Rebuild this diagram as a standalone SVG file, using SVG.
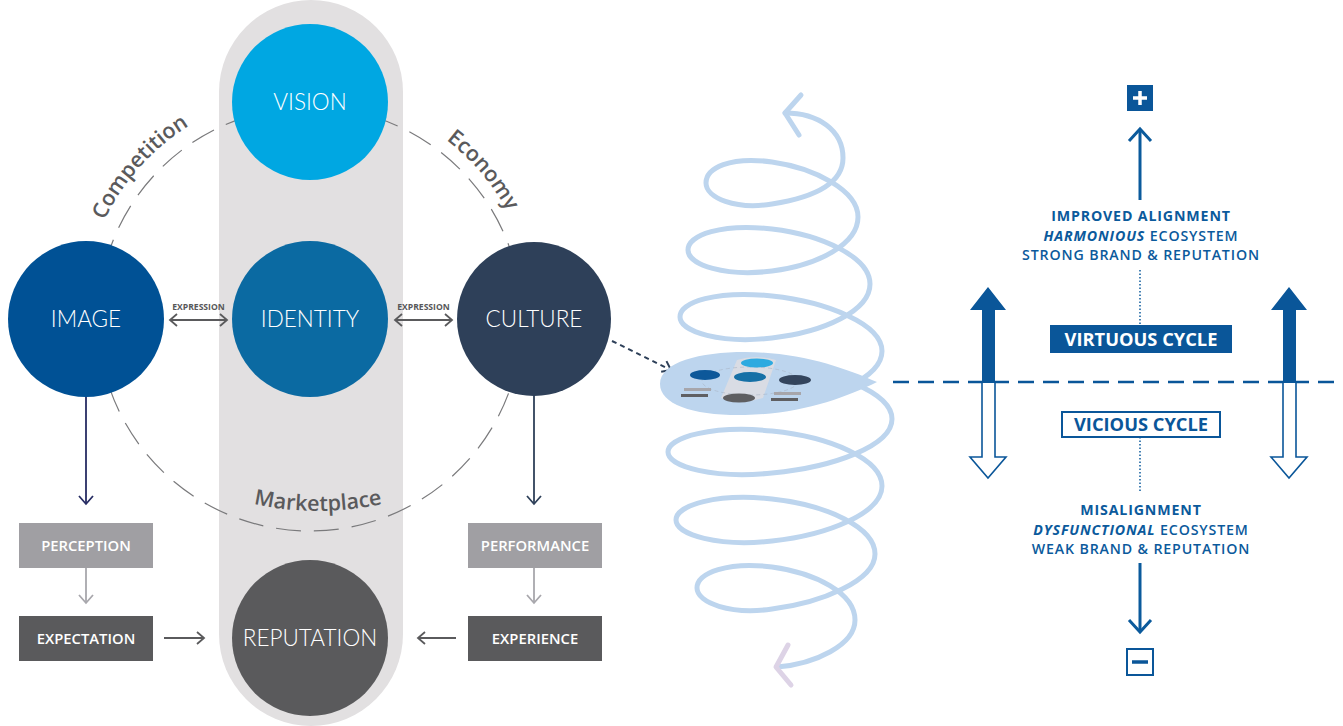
<svg xmlns="http://www.w3.org/2000/svg" width="1343" height="726" viewBox="0 0 1343 726">
<style>
.circ{font-family:Lato,"Open Sans",sans-serif;font-weight:300;font-size:22.5px;fill:#fff;text-anchor:middle}
.arc{font-family:"Open Sans",sans-serif;font-weight:600;font-size:21.5px;fill:#5a5a5c}
.box{font-family:"Open Sans",sans-serif;font-weight:600;font-size:14.8px;fill:#fff;text-anchor:middle}
.expr{font-family:"Open Sans",sans-serif;font-weight:700;font-size:8.6px;fill:#58585a;text-anchor:middle}
.rt{font-family:"Open Sans",sans-serif;font-size:14.2px;letter-spacing:0.85px;fill:#0B5A9C;text-anchor:middle}
.b{font-weight:700}
.m{font-weight:600}
.cyc{font-family:"Open Sans",sans-serif;font-weight:700;font-size:18.3px;text-anchor:middle}
.sp{fill:none;stroke:#BDD5EE;stroke-width:5;stroke-linecap:round;stroke-linejoin:round}
</style>
<defs>
<marker id="aNavy" viewBox="-10 -10 20 20" refX="0" refY="0" markerWidth="20" markerHeight="20" markerUnits="userSpaceOnUse" orient="auto"><path d="M-8,-7 L0,0 L-8,7" fill="none" stroke="#262C63" stroke-width="1.8"/></marker>
<marker id="aCult" viewBox="-10 -10 20 20" refX="0" refY="0" markerWidth="20" markerHeight="20" markerUnits="userSpaceOnUse" orient="auto"><path d="M-8,-7 L0,0 L-8,7" fill="none" stroke="#2E4059" stroke-width="1.8"/></marker>
<marker id="aLight" viewBox="-10 -10 20 20" refX="0" refY="0" markerWidth="20" markerHeight="20" markerUnits="userSpaceOnUse" orient="auto"><path d="M-8,-7 L0,0 L-8,7" fill="none" stroke="#A8A7AC" stroke-width="1.8"/></marker>
<marker id="aGrey" viewBox="-10 -10 20 20" refX="0" refY="0" markerWidth="20" markerHeight="20" markerUnits="userSpaceOnUse" orient="auto-start-reverse"><path d="M-7,-6 L0,0 L-7,6" fill="none" stroke="#5a5a5c" stroke-width="1.8"/></marker>
<marker id="aDash" viewBox="-10 -10 20 20" refX="0" refY="0" markerWidth="20" markerHeight="20" markerUnits="userSpaceOnUse" orient="auto"><path d="M-8,-6 L0,0 L-8,6" fill="none" stroke="#2E4059" stroke-width="2"/></marker>
<marker id="aBlue" viewBox="-14 -14 28 28" refX="0" refY="0" markerWidth="28" markerHeight="28" markerUnits="userSpaceOnUse" orient="auto"><path d="M-12,-11 L0,0 L-12,11" fill="none" stroke="#0B5A9C" stroke-width="3"/></marker>
<path id="pComp" d="M 86.8 272.4 A 228 228 0 0 1 238.8 102.4"/>
<path id="pEcon" d="M 384.6 106.7 A 225 225 0 0 1 530.9 277.2"/>
<path id="pMark" d="M 218 493.8 A 300 300 0 0 0 418 493.8"/>
</defs>

<g id="background">
<rect x="219" y="0" width="184" height="726" rx="92" fill="#E2E0E1"/>
<circle cx="310" cy="319" r="212" fill="none" stroke="#7a7a7c" stroke-width="1.2" stroke-dasharray="25 13"/>
<text class="arc" text-anchor="middle"><textPath href="#pComp" startOffset="50%">Competition</textPath></text>
<text class="arc" text-anchor="middle"><textPath href="#pEcon" startOffset="50%">Economy</textPath></text>
<text class="arc" text-anchor="middle"><textPath href="#pMark" startOffset="50%">Marketplace</textPath></text>
</g>

<g id="connectors">
<line x1="86" y1="397" x2="86" y2="504" stroke="#262C63" stroke-width="1.8" marker-end="url(#aNavy)"/>
<line x1="86" y1="568" x2="86" y2="603" stroke="#A8A7AC" stroke-width="1.8" marker-end="url(#aLight)"/>
<line x1="164" y1="638" x2="204" y2="638" stroke="#5a5a5c" stroke-width="1.8" marker-end="url(#aGrey)"/>
<line x1="534" y1="396" x2="534" y2="504" stroke="#2E4059" stroke-width="1.8" marker-end="url(#aCult)"/>
<line x1="534" y1="568" x2="534" y2="603" stroke="#A8A7AC" stroke-width="1.8" marker-end="url(#aLight)"/>
<line x1="456" y1="638" x2="418" y2="638" stroke="#5a5a5c" stroke-width="1.8" marker-end="url(#aGrey)"/>
<line x1="170" y1="320" x2="227" y2="320" stroke="#5a5a5c" stroke-width="1.8" marker-start="url(#aGrey)" marker-end="url(#aGrey)"/>
<line x1="395" y1="320" x2="452" y2="320" stroke="#5a5a5c" stroke-width="1.8" marker-start="url(#aGrey)" marker-end="url(#aGrey)"/>
<text class="expr" x="198.5" y="310">EXPRESSION</text>
<text class="expr" x="423.5" y="310">EXPRESSION</text>
<line x1="612" y1="341" x2="671" y2="370" stroke="#2E4059" stroke-width="2" stroke-dasharray="5 4" marker-end="url(#aDash)"/>
</g>

<g id="node-vision"><circle cx="310" cy="102" r="78" fill="#00A7E2"/><text class="circ" x="310" y="110">VISION</text></g>
<g id="node-identity"><circle cx="310" cy="319" r="78" fill="#0B6AA2"/><text class="circ" x="310" y="327">IDENTITY</text></g>
<g id="node-image"><circle cx="86" cy="319" r="78" fill="#005195"/><text class="circ" x="86" y="327">IMAGE</text></g>
<g id="node-culture"><circle cx="534" cy="319" r="77" fill="#2E4059"/><text class="circ" x="534" y="327">CULTURE</text></g>
<g id="node-reputation"><circle cx="310" cy="638" r="78" fill="#5A5A5C"/><text class="circ" x="310" y="646">REPUTATION</text></g>

<g id="node-perception"><rect x="19" y="523" width="134" height="45" fill="#A09FA3"/><text class="box" x="86" y="551">PERCEPTION</text></g>
<g id="node-expectation"><rect x="19" y="616" width="134" height="45" fill="#5A5A5C"/><text class="box" x="86" y="644">EXPECTATION</text></g>
<g id="node-performance"><rect x="468" y="523" width="134" height="45" fill="#A09FA3"/><text class="box" x="535" y="551">PERFORMANCE</text></g>
<g id="node-experience"><rect x="468" y="616" width="134" height="45" fill="#5A5A5C"/><text class="box" x="535" y="644">EXPERIENCE</text></g>

<g id="spiral">
<path class="sp" d="M 785 113 C 818 113 843 130 843 158
C 843 185 809.4 198.1 772 204 C 735.7 209.9 706 198 706 183 C 706 168 730.2 156.1 772 162 C 813.8 167.9 858 190.2 858 217
C 858 243.8 818.8 265.1 772 271 C 725.8 276.9 688 265 688 250 C 688 235 721.9 223.1 772 229 C 822.1 234.9 870 257.2 870 284
C 870 310.8 824.3 332.1 772 338 C 721.4 343.9 680 332 680 317 C 680 302 716.4 290.1 772 296 C 827.6 301.9 882 324.2 882 351
C 882 377.8 829.8 400.1 772 406 C 717 411.9 672 400 672 385 C 672 370 711.5 358.1 772 364 C 832.5 369.9 892 392.2 892 419
C 892 445.8 833.6 467.1 772 473 C 714.8 478.9 668 467 668 452 C 668 437 713.1 425.1 772 431 C 830.9 436.9 882 459.2 882 486
C 882 512.8 828.7 535.1 772 541 C 719.2 546.9 676 535 676 520 C 676 505 717.3 493.1 772 499 C 826.7 504.9 875 527.2 875 554
C 875 580.8 821 603.1 772 609 C 730.7 614.9 697 603 697 588 C 697 573 728.5 561.1 772 567 C 815.5 572.9 855 593.2 855 620
C 855 645 815 664 777 667"/>
<path class="sp" d="M 801 95 L 785 113 L 799 135"/>
<path d="M 788 645 L 776 667 L 791 685" fill="none" stroke="#DDD3E6" stroke-width="5" stroke-linecap="round" stroke-linejoin="round"/>
</g>

<g id="node-lens">
<path d="M 660 384 C 660 362 700 352 745 352 C 800 352 845 368 877 382 C 845 398 800 414 745 415 C 695 416 660 405 660 384 Z" fill="#BDD5EE"/>
<path d="M 737 360 Q 756 354 776 360 L 763 398 Q 742 405 721 398 Z" fill="#DCDDE2" opacity="0.9"/>
<ellipse cx="750" cy="381" rx="48" ry="14" fill="none" stroke="#A9B6C6" stroke-width="0.6" stroke-dasharray="4 3"/>
<ellipse cx="757" cy="363" rx="16" ry="4.5" fill="#2DAAE0"/>
<ellipse cx="750" cy="377" rx="16" ry="5" fill="#1670A6"/>
<ellipse cx="705" cy="375" rx="15" ry="5" fill="#0D589A"/>
<ellipse cx="795" cy="380" rx="16" ry="5" fill="#34455D"/>
<ellipse cx="739" cy="398" rx="16" ry="4.5" fill="#5E5E61"/>
<rect x="684" y="388" width="27" height="3" fill="#A7A6AB"/>
<rect x="681" y="394" width="27" height="3" fill="#5F5F62"/>
<rect x="774" y="392" width="27" height="3" fill="#A7A6AB"/>
<rect x="771" y="398" width="27" height="3" fill="#5F5F62"/>
</g>

<g id="cycle">
<line x1="893" y1="382" x2="1343" y2="382" stroke="#0A5699" stroke-width="2.5" stroke-dasharray="16 9"/>
<path d="M982,383 L982,310 L970,310 L988,287 L1006,310 L995,310 L995,383 Z" fill="#0A5699"/>
<path d="M982,383 L982,457 L970,457 L988,478 L1006,457 L995,457 L995,383" fill="#fff" stroke="#0A5699" stroke-width="1.6"/>
<path d="M1283,383 L1283,310 L1271,310 L1289,287 L1307,310 L1296,310 L1296,383 Z" fill="#0A5699"/>
<path d="M1283,383 L1283,457 L1271,457 L1289,478 L1307,457 L1296,457 L1296,383" fill="#fff" stroke="#0A5699" stroke-width="1.6"/>
<line x1="1140" y1="270" x2="1140" y2="325" stroke="#0B5A9C" stroke-width="1.5" stroke-dasharray="1.5 2"/>
<line x1="1140" y1="437" x2="1140" y2="492" stroke="#0B5A9C" stroke-width="1.5" stroke-dasharray="1.5 2"/>
</g>

<g id="node-plus"><rect x="1127" y="85" width="26" height="26" fill="#0A5699"/><path d="M1140,91 V105 M1133,98 H1147" stroke="#fff" stroke-width="3.5"/></g>
<g id="arrow-up"><line x1="1140" y1="200" x2="1140" y2="129" stroke="#0B5A9C" stroke-width="3" marker-end="url(#aBlue)"/></g>
<g id="node-improved">
<text class="rt b" x="1141" y="221">IMPROVED ALIGNMENT</text>
<text class="rt m" x="1141" y="240.5"><tspan font-weight="700" font-style="italic">HARMONIOUS</tspan> ECOSYSTEM</text>
<text class="rt m" x="1141" y="260">STRONG BRAND &amp; REPUTATION</text>
</g>
<g id="node-virtuous"><rect x="1050" y="325" width="182" height="28" fill="#0A5699"/><text class="cyc" x="1141" y="346" fill="#fff">VIRTUOUS CYCLE</text></g>
<g id="node-vicious"><rect x="1062" y="412" width="158" height="25" fill="#fff" stroke="#0A5699" stroke-width="2"/><text class="cyc" x="1141" y="431" fill="#0A5699">VICIOUS CYCLE</text></g>
<g id="node-misalign">
<text class="rt b" x="1141" y="515">MISALIGNMENT</text>
<text class="rt m" x="1141" y="534.5"><tspan font-weight="700" font-style="italic">DYSFUNCTIONAL</tspan> ECOSYSTEM</text>
<text class="rt m" x="1141" y="554">WEAK BRAND &amp; REPUTATION</text>
</g>
<g id="arrow-down"><line x1="1140" y1="563" x2="1140" y2="632" stroke="#0B5A9C" stroke-width="3" marker-end="url(#aBlue)"/></g>
<g id="node-minus"><rect x="1127" y="649" width="26" height="26" fill="#fff" stroke="#0A5699" stroke-width="2"/><line x1="1132" y1="662" x2="1148" y2="662" stroke="#0A5699" stroke-width="3.5"/></g>
</svg>
